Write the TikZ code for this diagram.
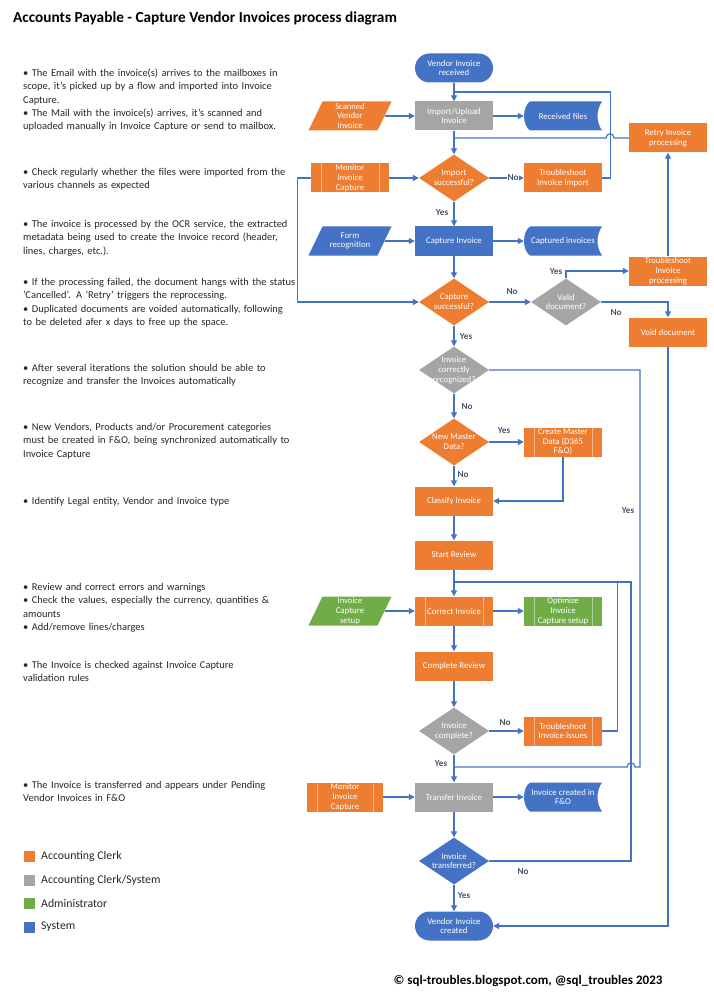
\documentclass[tikz,border=0pt]{standalone}
\usepackage{fontspec}
\setmainfont{Carlito}
\usetikzlibrary{shapes.geometric,arrows.meta}
\definecolor{clerk}{HTML}{ED7D31}
\definecolor{sysc}{HTML}{4472C4}
\definecolor{mixc}{HTML}{A5A5A5}
\definecolor{adm}{HTML}{70AD47}
\definecolor{linec}{HTML}{4472C4}
\definecolor{lblc}{HTML}{44546A}
\definecolor{txtc}{HTML}{262626}
\newcommand\nodefont{\fontsize{8.8}{9.8}\selectfont}
\newcommand\tightfont{\fontsize{8.6}{9.3}\selectfont}
\newcommand\notefont{\fontsize{10.45}{13.2}\selectfont}
\newcommand\para[5]{%
  \fill[#4] ({#2-27.5},{#3-14.5}) -- ({#2+41.5},{#3-14.5}) -- ({#2+27.5},{#3+14.5}) -- ({#2-41.5},{#3+14.5}) -- cycle;
  \node[box, minimum width=69pt] (#1) at (#2,#3) {#5};}
\newcommand\stored[5]{%
  \fill[#4] ({#2-33},{#3-14.5}) -- ({#2+39},{#3-14.5}) .. controls ({#2+33},{#3-6}) and ({#2+33},{#3+6}) .. ({#2+39},{#3+14.5}) -- ({#2-33},{#3+14.5}) .. controls ({#2-41},{#3+9}) and ({#2-41},{#3-9}) .. ({#2-33},{#3-14.5}) -- cycle;
  \node[box] (#1) at (#2,#3) {#5};}
\tikzset{
  box/.style={rectangle, minimum width=78pt, minimum height=29pt, inner sep=0pt, text=white, font=\nodefont, align=center},
  term/.style={box, fill=sysc, rounded corners=14.5pt},
  pre/.style={box, path picture={
     \draw[white, opacity=0.45, line width=0.7pt] ([xshift=10pt]path picture bounding box.north west) -- ([xshift=10pt]path picture bounding box.south west);
     \draw[white, opacity=0.45, line width=0.7pt] ([xshift=-10pt]path picture bounding box.north east) -- ([xshift=-10pt]path picture bounding box.south east);}},
  dia/.style={diamond, minimum width=70pt, minimum height=47pt, inner sep=0pt},
  dtxt/.style={inner sep=0pt, text=white, font=\nodefont, align=center},
  conn/.style={draw=linec, line width=1.2pt},
  arr/.style={conn, -{Triangle[length=6pt,width=6pt]}},
  lbl/.style={inner sep=0.5pt, text=lblc, font=\bfseries\fontsize{9.2}{10}\selectfont},
  note/.style={anchor=north west, inner sep=0pt, text width=330pt, align=left, text=txtc, font=\notefont},
  legt/.style={anchor=west, inner sep=0pt, text=txtc, font=\fontsize{11.8}{13}\selectfont}
}
\begin{document}
\begin{tikzpicture}[x=1pt,y=-1pt]
\useasboundingbox (0,0) rectangle (713,1000);
% title
\node[anchor=west, inner sep=0pt, text=black, font=\bfseries\fontsize{15.3}{17}\selectfont] (title) at (13,18) {Accounts Payable - Capture Vendor Invoices process diagram};
% notes
\node[note] (n1) at (23,67.3) {\strut• The Email with the invoice(s) arrives to the mailboxes in\\scope, it's picked up by a flow and imported into Invoice\\Capture.\\• The Mail with the invoice(s) arrives, it's scanned and\\uploaded manually in Invoice Capture or send to mailbox.};
\node[note] (n2) at (23,166.3) {\strut• Check regularly whether the files were imported from the\\various channels as expected};
\node[note] (n3) at (23,218.3) {\strut• The invoice is processed by the OCR service, the extracted\\metadata being used to create the Invoice record (header,\\lines, charges, etc.).};
\node[note] (n4) at (23,276.3) {\strut• If the processing failed, the document hangs with the status\\'Cancelled'. A 'Retry' triggers the reprocessing.\\• Duplicated documents are voided automatically, following\\to be deleted afer x days to free up the space.};
\node[note] (n5) at (23,362.3) {\strut• After several iterations the solution should be able to\\recognize and transfer the Invoices automatically};
\node[note] (n6) at (23,421.3) {\strut• New Vendors, Products and/or Procurement categories\\must be created in F\&O, being synchronized automatically to\\Invoice Capture};
\node[note] (n7) at (23,495.3) {\strut• Identify Legal entity, Vendor and Invoice type};
\node[note] (n8) at (23,581.3) {\strut• Review and correct errors and warnings\\• Check the values, especially the currency, quantities \&\\amounts\\• Add/remove lines/charges};
\node[note] (n9) at (23,659.3) {\strut• The Invoice is checked against Invoice Capture\\validation rules};
\node[note] (n10) at (23,779.3) {\strut• The Invoice is transferred and appears under Pending\\Vendor Invoices in F\&O};
% legend
\fill[clerk] (24,850.5) rectangle ++(11,11);
\node[legt] (lg1) at (41,856) {Accounting Clerk};
\fill[mixc] (24,874.5) rectangle ++(11,11);
\node[legt] (lg2) at (41,880) {Accounting Clerk/System};
\fill[adm] (24,897.5) rectangle ++(11,11);
\node[legt] (lg3) at (41,903) {Administrator};
\fill[sysc] (24,921.5) rectangle ++(11,11);
\node[legt] (lg4) at (41,927) {System};
% copyright
\node[inner sep=0pt, text=black, font=\bfseries\fontsize{13}{15}\selectfont] (copy) at (528,981) {© sql-troubles.blogspot.com, @sql\_troubles 2023};
% shapes
\node[term] (vir) at (454,68) {Vendor Invoice\\received};
\para{scan}{350}{116}{clerk}{\tightfont Scanned\\Vendor\\Invoice}
\node[box,fill=mixc] (imp) at (454,116) {Import/Upload\\Invoice};
\stored{rf}{563}{116}{sysc}{Received files}
\node[box,fill=clerk] (retry) at (668,138) {Retry Invoice\\processing};
\node[pre,fill=clerk] (mon1) at (350,178) {\tightfont Monitor\\Invoice\\Capture};
\node[dia,fill=clerk] (d1) at (454,178) {};
\node[dtxt] (d1t) at (d1) {Import\\successful?};
\node[box,fill=clerk] (tsi) at (563,178) {Troubleshoot\\Invoice import};
\para{form}{350}{241}{sysc}{Form\\recognition}
\node[box,fill=sysc] (cap) at (454,241) {Capture Invoice};
\stored{capd}{563}{241}{sysc}{Captured invoices}
\node[box,fill=clerk] (tsp) at (668,271) {\tightfont Troubleshoot\\Invoice\\processing};
\node[dia,fill=clerk] (d2) at (454,302) {};
\node[dtxt] (d2t) at (d2) {Capture\\successful?};
\node[dia,fill=mixc] (valid) at (566,302) {};
\node[dtxt] (validt) at (valid) {Valid\\document?};
\node[box,fill=clerk] (void) at (668,332) {Void document};
\node[dia,fill=mixc] (d3) at (454,370) {};
\node[dtxt] (d3t) at (d3) {\tightfont Invoice\\correctly\\recognized?};
\node[dia,fill=clerk] (d4) at (454,442) {};
\node[dtxt] (d4t) at (d4) {New Master\\Data?};
\node[pre,fill=clerk] (cmd) at (563,442) {\tightfont Create Master\\Data (D365\\F\&O)};
\node[box,fill=clerk] (cls) at (454,501) {Classify Invoice};
\node[box,fill=clerk] (sr) at (454,555) {Start Review};
\para{ics}{350}{611}{adm}{\tightfont Invoice\\Capture\\setup}
\node[pre,fill=clerk] (cor) at (454,611) {Correct Invoice};
\node[pre,fill=adm] (opt) at (563,611) {\tightfont Optimize\\Invoice\\Capture setup};
\node[box,fill=clerk] (cr) at (454,666) {Complete Review};
\node[dia,fill=mixc] (d5) at (454,731) {};
\node[dtxt] (d5t) at (d5) {Invoice\\complete?};
\node[pre,fill=clerk] (tii) at (563,731) {Troubleshoot\\Invoice issues};
\node[pre,fill=clerk,minimum width=76pt] (mon2) at (345,797) {\tightfont Monitor\\Invoice\\Capture};
\node[box,fill=mixc] (tr) at (454,797) {Transfer Invoice};
\stored{icf}{563}{797}{sysc}{Invoice created in\\F\&O}
\node[dia,fill=sysc] (d6) at (454,861) {};
\node[dtxt] (d6t) at (d6) {Invoice\\transferred?};
\node[term] (vic) at (454,926) {Vendor Invoice\\created};
% junctions
\coordinate (jTop) at (454,92);
\coordinate (jRetry) at (454,138);
\coordinate (jRev) at (454,582);
\coordinate (jTrans) at (454,767);
% connectors
\draw[arr] (vir) -- (imp);
\draw[conn] (tsi.east) -- ++(8,0) |- (jTop);
\draw[arr] (scan) -- (imp);
\draw[arr] (imp) -- (rf);
\draw[arr] (imp) -- (d1);
\draw[conn] (retry.west) -- (614,138) .. controls (614,132.5) and (606,132.5) .. (606,138) -- (jRetry);
\draw[arr] (mon1) -- (d1);
\draw[arr] (mon1.west) -- ++(-13,0) |- (d2.west);
\draw[arr] (d1) -- (tsi);
\draw[arr] (d1) -- (cap);
\draw[arr] (form) -- (cap);
\draw[arr] (cap) -- (capd);
\draw[arr] (cap) -- (d2);
\draw[arr] (d2) -- (valid);
\draw[arr] (valid.north) |- (tsp.west);
\draw[arr] (valid.east) -| (void.north);
\draw[arr] (tsp) -- (retry);
\draw[arr] (void.south) |- (vic.east);
\draw[arr] (d2) -- (d3);
\draw[conn] (d3.east) -| (640,767) -- (635,767) .. controls (635,761.5) and (627,761.5) .. (627,767) -- (jTrans);
\draw[arr] (d3) -- (d4);
\draw[arr] (d4) -- (cmd);
\draw[arr] (cmd.south) |- (cls.east);
\draw[arr] (d4) -- (cls);
\draw[arr] (cls) -- (sr);
\draw[arr] (sr) -- (cor);
\draw[arr] (ics) -- (cor);
\draw[arr] (cor) -- (opt);
\draw[arr] (cor) -- (cr);
\draw[arr] (cr) -- (d5);
\draw[arr] (d5) -- (tii);
\draw[conn] (tii.east) -- ++(15,0) |- (jRev);
\draw[arr] (d5) -- (tr);
\draw[arr] (mon2) -- (tr);
\draw[arr] (tr) -- (icf);
\draw[arr] (tr) -- (d6);
\draw[conn] (d6.east) -| (631,582) -- (jRev);
\draw[arr] (d6) -- (vic);
% labels
\node[lbl,fill=white] (l1) at (513,178) {No};
\node[lbl] (l2) at (442,213) {Yes};
\node[lbl] (l3) at (512,292) {No};
\node[lbl] (l4) at (556,272) {Yes};
\node[lbl] (l5) at (616,313) {No};
\node[lbl] (l6) at (466,337) {Yes};
\node[lbl] (l7) at (467,407) {No};
\node[lbl] (l8) at (504,431) {Yes};
\node[lbl] (l9) at (463,475) {No};
\node[lbl] (l10) at (628,511) {Yes};
\node[lbl] (l11) at (505,723) {No};
\node[lbl] (l12) at (441,764) {Yes};
\node[lbl] (l13) at (523,872) {No};
\node[lbl] (l14) at (464,896) {Yes};
\end{tikzpicture}
\end{document}
